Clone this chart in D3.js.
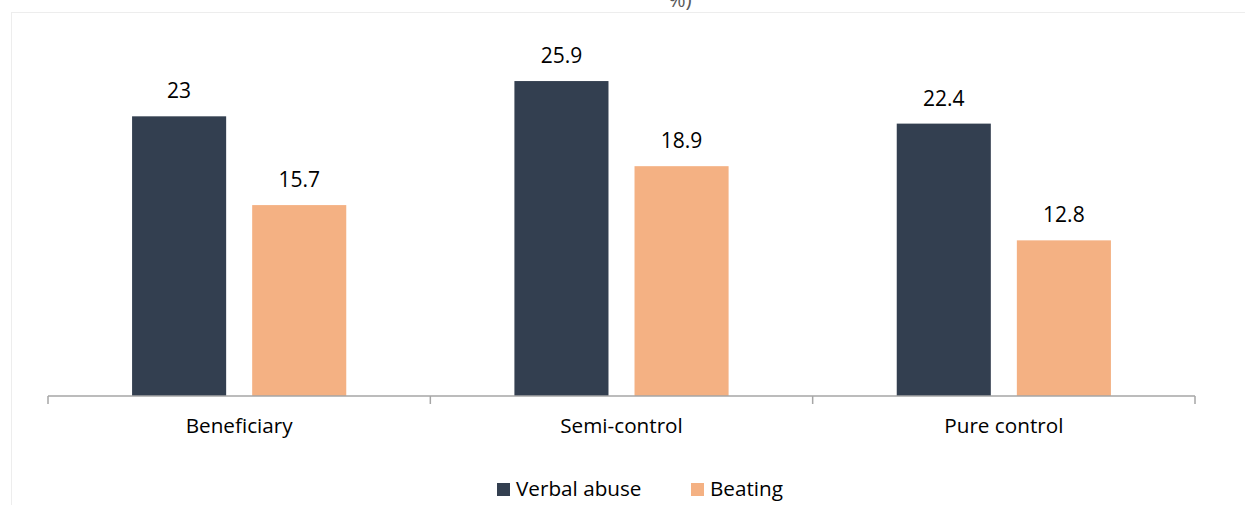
<!DOCTYPE html>
<html>
<head>
<meta charset="utf-8">
<script src="https://cdn.jsdelivr.net/npm/d3@7"></script>
<style>
  html, body { margin: 0; padding: 0; background: #fff; }
  svg { display: block; font-family: "Open Sans", "Noto Sans", "Liberation Sans", sans-serif; }
</style>
</head>
<body>
<svg id="chart" width="1245" height="505"></svg>
<script>
// Share of respondents reporting each form of abuse, by group (%)
const categories = ["Beneficiary", "Semi-control", "Pure control"];
const seriesNames = ["Verbal abuse", "Beating"];
const verbalAbuse = [23, 25.9, 22.4];
const beating = [15.7, 18.9, 12.8];
const seriesColors = ["#333f50", "#f4b183"];
const titleText = "%)";

const seriesValues = [verbalAbuse, beating];
const rows = categories.map((c, i) => ({
  category: c,
  values: seriesNames.map((s, j) => ({ series: s, value: seriesValues[j][i] }))
}));

const svg = d3.select("#chart");

// outer chart-area frame
svg.append("rect")
  .attr("x", 11.5).attr("y", 12.5)
  .attr("width", 1300).attr("height", 600)
  .attr("fill", "none").attr("stroke", "#ededed").attr("stroke-width", 1);

// title, only its last characters reach into the view
svg.append("text")
  .attr("x", 680).attr("y", 7)
  .attr("text-anchor", "middle")
  .attr("font-size", 21)
  .attr("fill", "#595959")
  .text(titleText);

const plotLeft = 48, plotRight = 1195, baseY = 396;

const x0 = d3.scaleBand()
  .domain(categories)
  .range([plotLeft, plotRight])
  .padding(0);

const x1 = d3.scaleBand()
  .domain(seriesNames)
  .range([0, x0.bandwidth()])
  .paddingInner(0.2167)
  .paddingOuter(0.7);

const y = d3.scaleLinear()
  .domain([0, 30])
  .range([baseY, baseY - 30 * 12.16]);

const color = d3.scaleOrdinal().domain(seriesNames).range(seriesColors);

const groups = svg.append("g").selectAll("g")
  .data(rows)
  .join("g")
  .attr("transform", d => `translate(${x0(d.category)},0)`);

groups.selectAll("rect")
  .data(d => d.values)
  .join("rect")
  .attr("x", d => x1(d.series))
  .attr("y", d => y(d.value))
  .attr("width", x1.bandwidth())
  .attr("height", d => baseY - y(d.value))
  .attr("fill", d => color(d.series));

groups.selectAll("text.val")
  .data(d => d.values)
  .join("text")
  .attr("class", "val")
  .attr("x", d => x1(d.series) + x1.bandwidth() / 2)
  .attr("y", d => y(d.value) - 18)
  .attr("text-anchor", "middle")
  .attr("font-size", 21)
  .attr("fill", "#000")
  .text(d => d.value);

// category axis with boundary ticks
const axis = svg.append("g").attr("transform", `translate(0,${baseY})`);
axis.append("line")
  .attr("x1", plotLeft).attr("x2", plotRight)
  .attr("stroke", "#a6a6a6").attr("stroke-width", 1.5);
const boundaries = categories.map(c => x0(c)).concat([plotRight]);
axis.selectAll("line.tick")
  .data(boundaries)
  .join("line")
  .attr("class", "tick")
  .attr("x1", d => d).attr("x2", d => d)
  .attr("y1", 0).attr("y2", 8)
  .attr("stroke", "#a6a6a6").attr("stroke-width", 1.5);
axis.selectAll("text")
  .data(categories)
  .join("text")
  .attr("x", d => x0(d) + x0.bandwidth() / 2)
  .attr("y", 37)
  .attr("text-anchor", "middle")
  .attr("font-size", 20.7)
  .attr("fill", "#000")
  .text(d => d);

// legend
const legendItems = [
  { name: seriesNames[0], x: 497 },
  { name: seriesNames[1], x: 691 }
];
const legend = svg.append("g").attr("transform", "translate(0,483)");
const li = legend.selectAll("g").data(legendItems).join("g")
  .attr("transform", d => `translate(${d.x},0)`);
li.append("rect")
  .attr("width", 13).attr("height", 13)
  .attr("fill", d => color(d.name));
li.append("text")
  .attr("x", 19).attr("y", 13)
  .attr("font-size", 20.7)
  .attr("fill", "#000")
  .text(d => d.name);
</script>
</body>
</html>
